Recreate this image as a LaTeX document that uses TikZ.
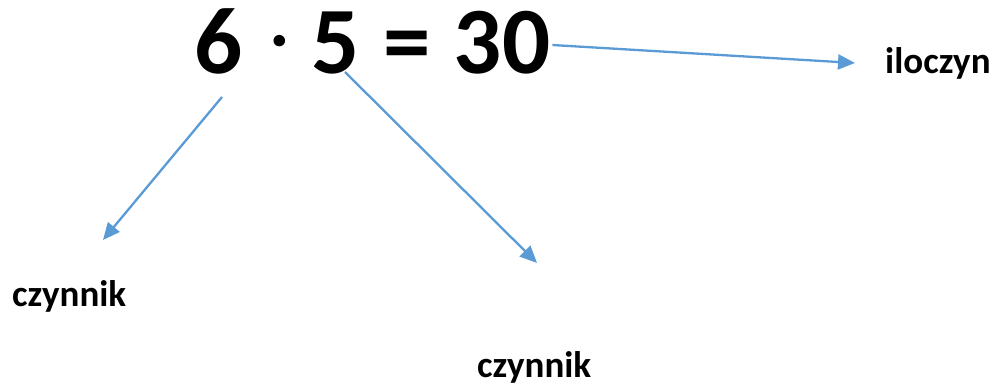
\documentclass[tikz,border=0pt]{standalone}
\usepackage{fontspec}
\setmainfont{Carlito}
\usepackage{xcolor}
\usetikzlibrary{arrows.meta}
\definecolor{arrBlue}{RGB}{91,155,213}

\begin{document}
\begin{tikzpicture}[x=1pt,y=-1pt,
    big/.style={inner sep=0pt, anchor=base, font=\fontsize{95}{95}\selectfont\bfseries},
    lbl/.style={inner sep=0pt, anchor=base west, font=\fontsize{37}{37}\selectfont\bfseries},
    arr/.style={arrBlue, line width=2.3pt, -{Triangle[length=17pt,width=15pt]}}]
    \useasboundingbox (0,0) rectangle (997,385);

    % the product
    \node[big] (six) at (219,74) {6};
    \node[big, font=\fontsize{62}{62}\selectfont\bfseries] (cdot) at (280,59) {·};
    \node[big] (five) at (336,74) {5};
    \node[big] (eq) at (407,74) {=};
    \node[big] (prod) at (502,74) {30};

    % labels
    \node[lbl] (ilo) at (885,74) {iloczyn};
    \node[lbl] (czA) at (12,306) {czynnik};
    \node[lbl] (czB) at (477,377) {czynnik};

    % arrow ends
    \coordinate (tipA) at (103,240);
    \coordinate (tipB) at (537,263);
    \coordinate (tipC) at (855,63);

    \draw[arr] ([shift={(3,23)}]six.base) -- (tipA);
    \draw[arr] ([shift={(9,-2)}]five.base) -- (tipB);
    \draw[arr] ([shift={(2,-29)}]prod.base east) -- (tipC);
\end{tikzpicture}
\end{document}
